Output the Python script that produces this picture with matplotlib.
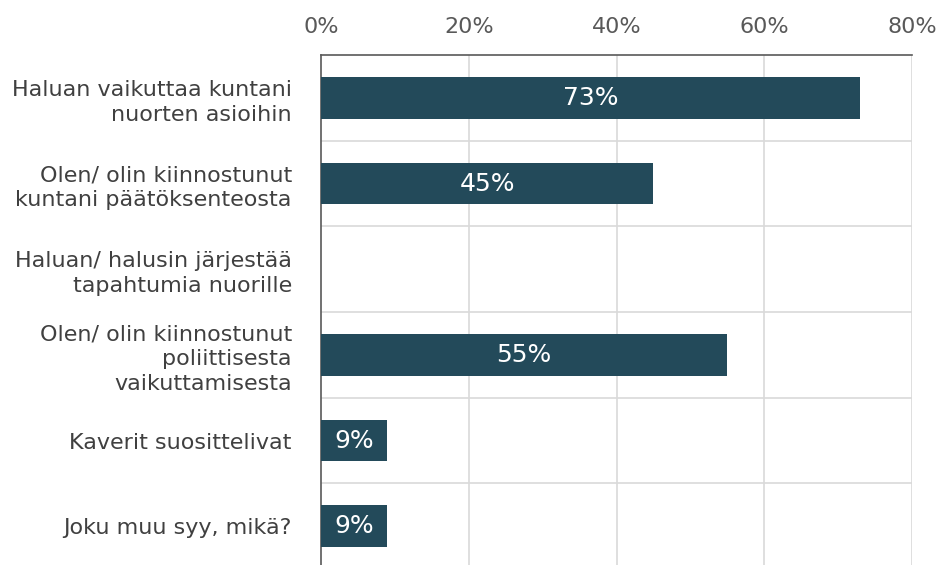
import matplotlib
matplotlib.use("Agg")
import matplotlib.pyplot as plt
import numpy as np

plt.rcParams['font.family'] = ['DejaVu Sans']

categories = [
    "Haluan vaikuttaa kuntani\nnuorten asioihin",
    "Olen/ olin kiinnostunut\nkuntani päätöksenteosta",
    "Haluan/ halusin järjestää\ntapahtumia nuorille",
    "Olen/ olin kiinnostunut\npoliittisesta\nvaikuttamisesta",
    "Kaverit suosittelivat",
    "Joku muu syy, mikä?",
]
values = [73, 45, 0, 55, 9, 9]
xticks = [0, 20, 40, 60, 80]
xticklabels = ["0%", "20%", "40%", "60%", "80%"]

bar_color = "#234a5a"
grid_color = "#d9d9d9"
text_color = "#404040"

fig = plt.figure(figsize=(9.36, 5.65), dpi=100)
ax = fig.add_axes([321/936, 1 - 569/565, (912-321)/936, (569-55)/565])

n = len(categories)
y = np.arange(n)
ax.barh(y, values, height=0.49, color=bar_color, zorder=3)
for yi, v in zip(y, values):
    if v > 0:
        ax.text(v/2, yi, f"{v}%", ha="center", va="center", color="white",
                fontsize=18, zorder=4)

ax.set_ylim(n - 0.5, -0.5)
ax.set_xlim(0, 80)
ax.set_yticks(y)
ax.set_yticklabels(categories, fontsize=16, color=text_color, ha="right",
                   multialignment="right", linespacing=1.3)
ax.tick_params(axis="y", length=0, pad=21)
ax.xaxis.tick_top()
ax.set_xticks(xticks)
ax.set_xticklabels(xticklabels, fontsize=16, color="#595959")
ax.tick_params(axis="x", length=0, pad=13)

for xv in xticks[1:]:
    ax.axvline(xv, color=grid_color, lw=1.2, zorder=1)
for b in np.arange(0.5, n, 1.0):
    ax.axhline(b, color=grid_color, lw=1.2, zorder=1)

ax.spines["top"].set_color("#595959")
ax.spines["left"].set_color("#595959")
ax.spines["top"].set_linewidth(1.2)
ax.spines["left"].set_linewidth(1.2)
ax.spines["right"].set_visible(False)
ax.spines["bottom"].set_visible(False)

fig.savefig("out.png", dpi=100)
